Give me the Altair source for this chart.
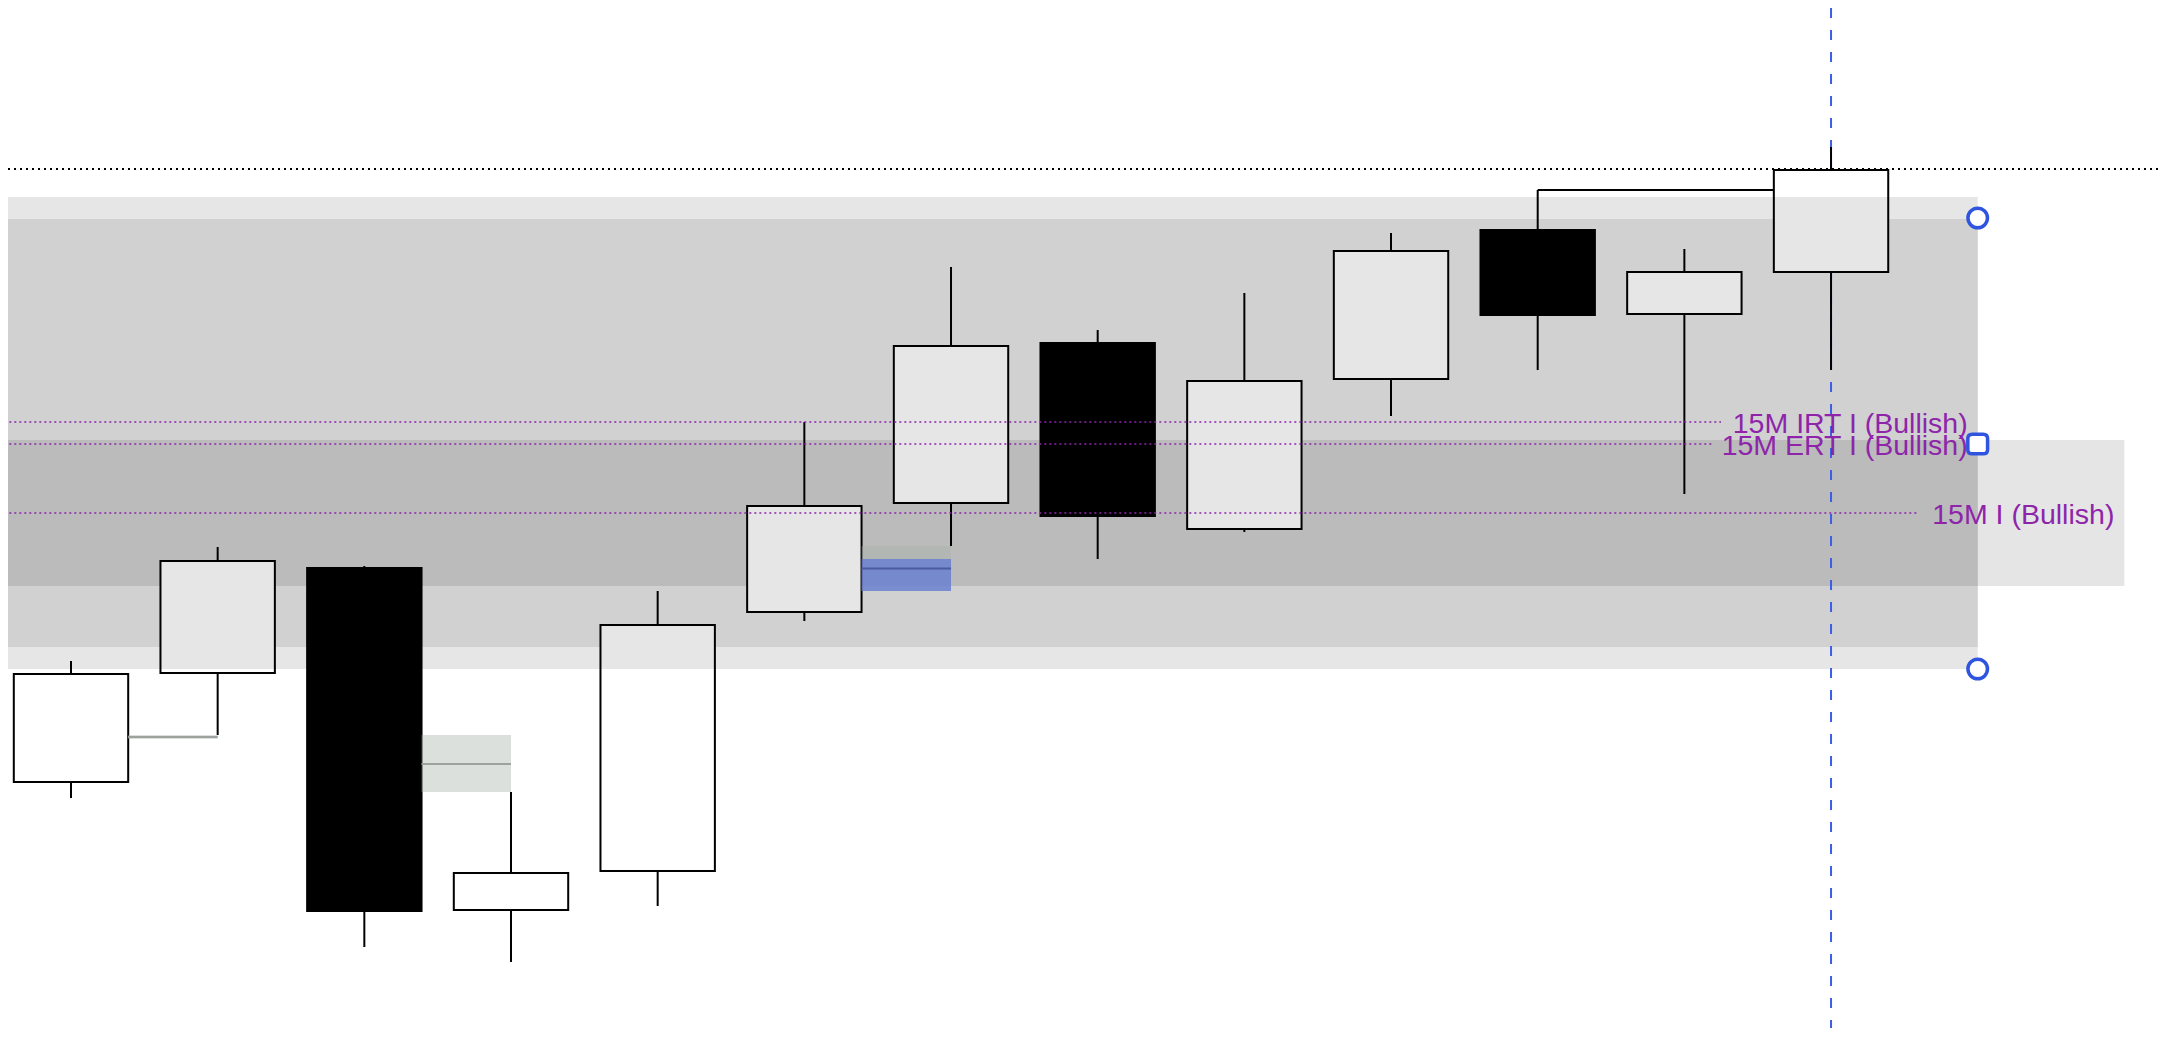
import altair as alt
import pandas as pd

# ---------------- data ----------------
# 15-minute candles (index 0..12)
candle_idx = list(range(13))
c_open  = [21104.5, 21131.75, 21158.0, 21072.5, 21082.25, 21147.0, 21174.25,
           21214.25, 21167.75, 21205.25, 21242.5, 21221.5, 21232.0]
c_high  = [21134.75, 21163.25, 21158.5, 21102.0, 21152.25, 21194.5, 21233.25,
           21217.5, 21226.75, 21241.75, 21252.5, 21237.75, 21263.25]
c_low   = [21100.5, 21116.25, 21063.25, 21059.5, 21073.5, 21144.75, 21163.5,
           21160.25, 21167.0, 21196.0, 21207.5, 21176.5, 21207.5]
c_close = [21131.5, 21159.75, 21072.25, 21081.75, 21143.75, 21173.5, 21213.5,
           21171.0, 21204.75, 21237.25, 21221.25, 21232.0, 21257.5]

# shaded zones (start index, end index, low price, high price)
outer_zone = [-1, 13, 21132.75, 21250.75]
inner_zone = [-1, 13, 21138.25, 21245.25]
imb_zone   = [-1, 14, 21153.5, 21190.0]

# labelled purple levels
level_labels   = ["15M IRT I (Bullish)", "15M ERT I (Bullish)", "15M I (Bullish)"]
level_prices   = [21194.5, 21189.0, 21171.75]
level_line_end = [11.25, 11.19, 12.59]
level_label_x  = [13, 13, 14]

# gap boxes (x from, x to, low, high, mid line)
gap_x0   = [0.39, 2.39, 5.39]
gap_x1   = [1.0, 3.0, 6.0]
gap_lo   = [21115.25, 21102.0, 21152.25]
gap_hi   = [21116.25, 21116.25, 21163.5]
gap_mid  = [21115.75, 21109.0, 21157.875]
gap_midc = ["#9ea29e", "#9ea29e", "#4b5b9d"]

# blue box
blue_x0, blue_x1, blue_lo, blue_hi = [5.39], [6.0], [21152.25], [21160.25]

# liquidity line from candle 10 high to candle 12
liq_x0, liq_x1, liq_price = [10], [11.61], [21252.5]

# dotted high line
top_dotted = [21257.75]

# current-bar vertical line
cursor_x = [12]

# handles
handle_circle_x = [13, 13]
handle_circle_y = [21245.5, 21132.75]
handle_square_x = [13]
handle_square_y = [21189.0]

# ---------------- scales ----------------
PX_PER_BAR = 146.67
W, H = 2150, 1020
X_MIN = -0.4295
X_MAX = X_MIN + W / PX_PER_BAR
Y_MAX = 21298.0
Y_MIN = Y_MAX - H / 4.0
XS = alt.Scale(domain=[X_MIN, X_MAX], nice=False, zero=False)
YS = alt.Scale(domain=[Y_MIN, Y_MAX], nice=False, zero=False)


def X(f):
    return alt.X(f, type="quantitative", scale=XS, axis=None)


def Y(f):
    return alt.Y(f, type="quantitative", scale=YS, axis=None)


HALF = 0.39

candles = pd.DataFrame({"i": candle_idx, "o": c_open, "h": c_high,
                        "l": c_low, "c": c_close})
candles["up"] = candles["c"] >= candles["o"]
candles["xl"] = candles["i"] - HALF
candles["xr"] = candles["i"] + HALF
candles["blo"] = candles[["o", "c"]].min(axis=1)
candles["bhi"] = candles[["o", "c"]].max(axis=1)

up_c = candles[candles["up"]].copy()
down_c = candles[~candles["up"]].copy()

# part of each rising body that lies inside the outer zone is drawn light grey
shade = up_c.copy()
shade["slo"] = shade["blo"].clip(lower=outer_zone[2])
shade["shi"] = shade["bhi"].clip(upper=outer_zone[3])
shade = shade[shade["shi"] > shade["slo"]]


def zone_df(z):
    return pd.DataFrame({"x0": [z[0]], "x1": [z[1]], "y0": [z[2]], "y1": [z[3]]})


def zone(z, color, opacity=1.0):
    return alt.Chart(zone_df(z)).mark_rect(clip=True, color=color, opacity=opacity).encode(
        x=X("x0"), x2="x1", y=Y("y0"), y2="y1")


outer = zone(outer_zone, "#e6e6e6")
inner = zone(inner_zone, "#d1d1d1")
imb = zone(imb_zone, "black", 0.1)

cursor = alt.Chart(pd.DataFrame({"x": cursor_x})).mark_rule(
    color="#3a5ee8", strokeWidth=2, strokeDash=[10, 12]).encode(x=X("x"))

wicks = alt.Chart(candles).mark_rule(color="black", strokeWidth=2).encode(
    x=X("i"), y=Y("l"), y2="h")
up_bodies = alt.Chart(up_c).mark_rect(color="white", opacity=1).encode(
    x=X("xl"), x2="xr", y=Y("blo"), y2="bhi")
shades = alt.Chart(shade).mark_rect(color="#e6e6e6", opacity=1).encode(
    x=X("xl"), x2="xr", y=Y("slo"), y2="shi")
up_outline = alt.Chart(up_c).mark_rect(fillOpacity=0, stroke="black", strokeWidth=2).encode(
    x=X("xl"), x2="xr", y=Y("blo"), y2="bhi")
down_bodies = alt.Chart(down_c).mark_rect(color="black", stroke="black", strokeWidth=2,
                                          opacity=1).encode(
    x=X("xl"), x2="xr", y=Y("blo"), y2="bhi")

liq = alt.Chart(pd.DataFrame({"x0": liq_x0, "x1": liq_x1, "y": liq_price})).mark_rule(
    color="black", strokeWidth=2).encode(x=X("x0"), x2="x1", y=Y("y"))

dotted = alt.Chart(pd.DataFrame({"y": top_dotted})).mark_rule(
    color="black", strokeWidth=2, strokeDash=[2, 4]).encode(y=Y("y"))

gaps = pd.DataFrame({"x0": gap_x0, "x1": gap_x1, "lo": gap_lo, "hi": gap_hi,
                     "mid": gap_mid, "mc": gap_midc})
gap_boxes = alt.Chart(gaps).mark_rect(color="#a8b2a8", opacity=0.4).encode(
    x=X("x0"), x2="x1", y=Y("lo"), y2="hi")
blue_box = alt.Chart(pd.DataFrame({"x0": blue_x0, "x1": blue_x1, "lo": blue_lo,
                                   "hi": blue_hi})).mark_rect(
    color="#5972da", opacity=0.667).encode(x=X("x0"), x2="x1", y=Y("lo"), y2="hi")
gap_mids = alt.Chart(gaps).mark_rule(strokeWidth=2).encode(
    x=X("x0"), x2="x1", y=Y("mid"), color=alt.Color("mc:N", scale=None))

levels = pd.DataFrame({"label": level_labels, "y": level_prices, "xe": level_line_end,
                       "xs": [-1] * 3, "lx": level_label_x})
level_lines = alt.Chart(levels).mark_rule(clip=True, color="#8e24aa", strokeWidth=1.5,
                                          strokeDash=[2, 3]).encode(
    x=X("xs"), x2="xe", y=Y("y"))
level_text = alt.Chart(levels).mark_text(align="right", baseline="alphabetic", dx=-10, dy=11,
                                         font="Liberation Sans", fontSize=28.5,
                                         color="#8e24aa").encode(
    x=X("lx"), y=Y("y"), text="label:N")

circles = alt.Chart(pd.DataFrame({"x": handle_circle_x, "y": handle_circle_y})).mark_point(
    shape="circle", filled=True, fill="white", stroke="#2f54e0", strokeWidth=3.5,
    size=380, opacity=1).encode(x=X("x"), y=Y("y"))
square_path = ("M -0.55 -1 L 0.55 -1 Q 1 -1 1 -0.55 L 1 0.55 Q 1 1 0.55 1 "
               "L -0.55 1 Q -1 1 -1 0.55 L -1 -0.55 Q -1 -1 -0.55 -1 Z")
squares = alt.Chart(pd.DataFrame({"x": handle_square_x, "y": handle_square_y})).mark_point(
    shape=square_path, filled=True, fill="white", stroke="#2f54e0", strokeWidth=3.5,
    size=390, opacity=1).encode(x=X("x"), y=Y("y"))

chart = alt.layer(
    outer, inner, imb, cursor, wicks, up_bodies, shades, up_outline, down_bodies,
    liq, dotted, gap_boxes, blue_box, gap_mids, level_lines, level_text, circles, squares
).properties(
    width=W, height=H, padding=0, background="white",
    autosize=alt.AutoSizeParams(type="none")
).configure_view(stroke=None)

chart.save("out.html", embed_options={"renderer": "svg", "actions": False})
